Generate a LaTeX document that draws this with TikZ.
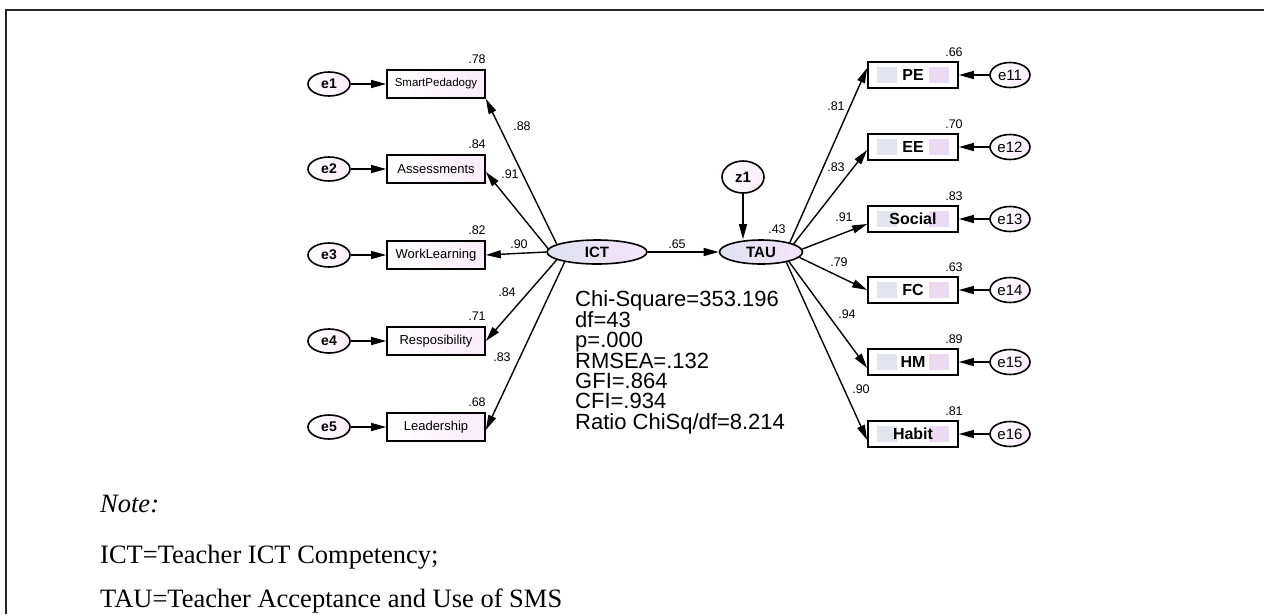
\documentclass[tikz,border=0pt]{standalone}
\usepackage{fontspec}
\setmainfont{Liberation Sans}
\newfontfamily\notefont{Liberation Serif}
\usetikzlibrary{shapes.geometric,arrows.meta,calc}
\definecolor{pinkA}{RGB}{248,236,248}
\definecolor{patchG}{RGB}{226,228,238}
\definecolor{patchP}{RGB}{236,218,242}
\definecolor{latL}{RGB}{222,226,238}
\definecolor{latR}{RGB}{244,228,248}
\begin{document}
\begin{tikzpicture}[x=1pt,y=-1pt,
  arr/.style={line width=1.4pt,-{Triangle[length=15pt,width=8pt]}},
  errL/.style={ellipse,draw,line width=1.6pt,minimum width=42pt,minimum height=24pt,inner sep=0pt,
    left color=white,right color=pinkA,font=\fontsize{14}{14}\selectfont\bfseries},
  errR/.style={ellipse,draw,line width=1.6pt,minimum width=40pt,minimum height=25pt,inner sep=0pt,
    left color=white,right color=pinkA,font=\fontsize{15}{15}\selectfont},
  lat/.style={ellipse,draw,line width=1.6pt,minimum height=24pt,inner sep=0pt,
    left color=latL,middle color=white!75!latR,right color=latR,font=\fontsize{15}{15}\selectfont\bfseries},
  obsL/.style={rectangle,draw,line width=1.7pt,minimum width=98pt,minimum height=28pt,inner sep=0pt,
    left color=white,right color=pinkA,font=\fontsize{13}{13}\selectfont},
  obsR/.style={rectangle,draw,line width=1.7pt,minimum width=90pt,minimum height=26pt,inner sep=0pt,
    fill=white,font=\fontsize{16}{16}\selectfont\bfseries,
    path picture={
      \fill[patchG] ([xshift=9pt,yshift=-5pt]path picture bounding box.north west) rectangle ([xshift=29pt,yshift=5pt]path picture bounding box.south west);
      \fill[patchP] ([xshift=-9pt,yshift=-5pt]path picture bounding box.north east) rectangle ([xshift=-29pt,yshift=5pt]path picture bounding box.south east);}},
  val/.style={font=\fontsize{12.5}{12.5}\selectfont,inner sep=0pt},
  notetxt/.style={font=\notefont\fontsize{26.5}{26.5}\selectfont,inner sep=0pt,anchor=base west}
]
\useasboundingbox (0,0) rectangle (1264,614);
\draw[line width=2pt,black!85,line join=miter] (6,614) -- (6,10) -- (1264,10);

% left error terms and indicators
\foreach \i/\y in {1/84,2/169,3/255,4/341,5/427}{
  \node[errL] (e\i) at (329,\y) {e\i};
}
\node[obsL] (b1) at (436,84) {\fontsize{11.5}{11.5}\selectfont SmartPedadogy};
\node[obsL] (b2) at (436,169) {Assessments};
\node[obsL] (b3) at (436,255) {WorkLearning};
\node[obsL] (b4) at (436,341) {Resposibility};
\node[obsL] (b5) at (436,427) {Leadership};
\foreach \i in {1,...,5}{ \draw[arr] (e\i) -- (b\i); }

% latent variables
\node[lat,minimum width=100pt] (ICT) at (597,252) {ICT};
\node[lat,minimum width=83pt] (TAU) at (761,252) {TAU};
\node[ellipse,draw,line width=1.6pt,minimum width=42pt,minimum height=32pt,inner sep=0pt,
  left color=white,right color=pinkA,font=\fontsize{15}{15}\selectfont\bfseries] (z1) at (743,177) {z1};

% right indicators and errors
\node[obsR] (PE) at (913,75) {PE};
\node[obsR] (EE) at (913,147) {EE};
\node[obsR] (SO) at (913,219) {Social};
\node[obsR] (FC) at (913,290) {FC};
\node[obsR] (HM) at (913,362) {HM};
\node[obsR] (HA) at (913,434) {Habit};
\node[errR] (e11) at (1010,75) {e11};
\node[errR] (e12) at (1010,147) {e12};
\node[errR] (e13) at (1010,219) {e13};
\node[errR] (e14) at (1010,290) {e14};
\node[errR] (e15) at (1010,362) {e15};
\node[errR] (e16) at (1010,434) {e16};
\draw[arr] (e11) -- (PE);
\draw[arr] (e12) -- (EE);
\draw[arr] (e13) -- (SO);
\draw[arr] (e14) -- (FC);
\draw[arr] (e15) -- (HM);
\draw[arr] (e16) -- (HA);

% loadings ICT
\draw[arr] (ICT.169) -- (b1.south east);
\draw[arr] (ICT.176) -- ([yshift=-3pt]b2.east);
\draw[arr] (ICT.180) -- (b3.east);
\draw[arr] (ICT.191) -- (b4.east);
\draw[arr] (ICT.197) -- ([yshift=-3pt]b5.east);
% structural
\draw[arr] (ICT) -- (TAU);
\draw[arr] (z1.south) -- (z1.south |- TAU.north);
% loadings TAU
\draw[arr] (TAU.18) -- ([yshift=7pt]PE.west);
\draw[arr] (TAU.14) -- ([yshift=-3pt]EE.west);
\draw[arr] (TAU.4) -- ([yshift=-5pt]SO.west);
\draw[arr] (TAU.-8) -- (FC.west);
\draw[arr] (TAU.-19) -- ([yshift=-6pt]HM.west);
\draw[arr] (TAU.-22) -- ([yshift=-6pt]HA.west);

% squared multiple correlations
\node[val] (r1) at (477,59) {.78};
\node[val] (r2) at (477,144) {.84};
\node[val] (r3) at (477,230) {.82};
\node[val] (r4) at (477,316) {.71};
\node[val] (r5) at (477,402) {.68};
\node[val] (r11) at (954,52) {.66};
\node[val] (r12) at (954,124) {.70};
\node[val] (r13) at (954,196) {.83};
\node[val] (r14) at (954,267) {.63};
\node[val] (r15) at (954,339) {.89};
\node[val] (r16) at (954,411) {.81};
\node[val] (rT) at (777,229) {.43};
% loadings
\node[val] (l1) at (522,126) {.88};
\node[val] (l2) at (510,174) {.91};
\node[val] (l3) at (519,244) {.90};
\node[val] (l4) at (507,292) {.84};
\node[val] (l5) at (502,357) {.83};
\node[val] (l11) at (836,106) {.81};
\node[val] (l12) at (836,167) {.83};
\node[val] (l13) at (844,217) {.91};
\node[val] (l14) at (839,262) {.79};
\node[val] (l15) at (847,314) {.94};
\node[val] (l16) at (861,389) {.90};
\node[val] (lS) at (677,244) {.65};

% fit statistics
\node[anchor=north west,inner sep=0pt,align=left,font=\fontsize{22}{20.3}\selectfont] (fit) at (575,290)
  {Chi-Square=353.196\\df=43\\p=.000\\RMSEA=.132\\GFI=.864\\CFI=.934\\Ratio ChiSq/df=8.214};

% note
\node[notetxt] (n1) at (100,512) {\itshape Note:};
\node[notetxt] (n2) at (100,563) {ICT=Teacher ICT Competency;};
\node[notetxt] (n3) at (100,607) {TAU=Teacher Acceptance and Use of SMS};
\end{tikzpicture}
\end{document}
